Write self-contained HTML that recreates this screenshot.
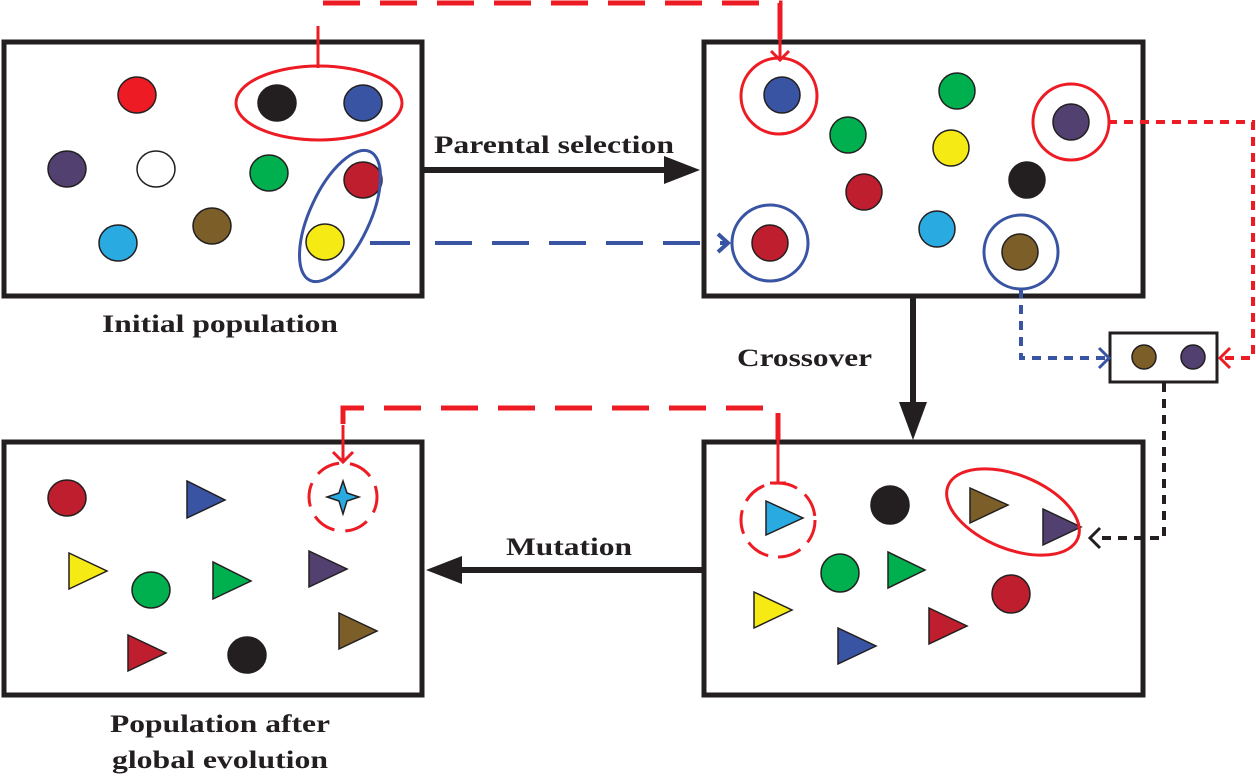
<!DOCTYPE html>
<html><head><meta charset="utf-8"><style>
html,body{margin:0;padding:0;background:#fff;}
svg{display:block;}
text{font-family:"Liberation Serif",serif;font-weight:bold;fill:#231f20;}
</style></head><body>
<svg width="1256" height="776" viewBox="0 0 1256 776" xmlns="http://www.w3.org/2000/svg">
<defs>
<marker id="ah" markerWidth="10" markerHeight="10" refX="9" refY="5" orient="auto" markerUnits="userSpaceOnUse"></marker>
</defs>
<g stroke="#231f20" stroke-width="5" fill="none">
<rect x="4" y="42" width="418" height="254"/>
<rect x="704" y="42" width="439" height="254"/>
<rect x="704" y="442" width="439" height="253"/>
<rect x="4" y="442" width="418" height="253"/>
<rect x="1110" y="333" width="107" height="49" stroke-width="3"/>
</g>
<!-- main arrows -->
<g stroke="#231f20" stroke-width="6" fill="#231f20">
<line x1="422" y1="170" x2="668" y2="170"/>
<polygon points="700,170 664,156 664,184" stroke="none"/>
<line x1="913" y1="296" x2="913" y2="410"/>
<polygon points="913,440 899,402 927,402" stroke="none"/>
<line x1="704" y1="570" x2="460" y2="570"/>
<polygon points="426,570 462,556 462,584" stroke="none"/>
</g>
<text x="434" y="153" font-size="25" textLength="240" lengthAdjust="spacingAndGlyphs">Parental selection</text>
<text x="737" y="366" font-size="25" textLength="135" lengthAdjust="spacingAndGlyphs">Crossover</text>
<text x="506" y="555" font-size="25" textLength="126" lengthAdjust="spacingAndGlyphs">Mutation</text>
<text x="102" y="332" font-size="25" textLength="236" lengthAdjust="spacingAndGlyphs">Initial population</text>
<text x="110" y="732" font-size="25" textLength="220" lengthAdjust="spacingAndGlyphs">Population after</text>
<text x="112" y="768" font-size="25" textLength="216" lengthAdjust="spacingAndGlyphs">global evolution</text>

<!-- box1 circles -->
<g stroke="#231f20" stroke-width="1.5">
<ellipse cx="137" cy="95" rx="19" ry="18" fill="#ed1c24"/>
<ellipse cx="277" cy="103" rx="19" ry="18" fill="#231f20"/>
<ellipse cx="363" cy="103" rx="19" ry="18" fill="#3a54a4"/>
<ellipse cx="67" cy="169" rx="19" ry="18" fill="#524170"/>
<ellipse cx="156" cy="169" rx="19" ry="18" fill="#fff"/>
<ellipse cx="269" cy="173" rx="19" ry="18" fill="#00b04f"/>
<ellipse cx="363" cy="180" rx="19" ry="18" fill="#be1e2d"/>
<ellipse cx="325" cy="242" rx="19" ry="18" fill="#f5ea14"/>
<ellipse cx="118" cy="243" rx="19" ry="18" fill="#29abe2"/>
<ellipse cx="212" cy="226" rx="19" ry="18" fill="#7b5e28"/>
</g>
<ellipse cx="319" cy="103" rx="83" ry="37" fill="none" stroke="#ed1c24" stroke-width="3"/>
<ellipse cx="340" cy="216" rx="30" ry="71" fill="none" stroke="#3a54a4" stroke-width="3" transform="rotate(25 340 216)"/>
<!-- red dashed top -->
<line x1="318" y1="68" x2="318" y2="26" stroke="#ed1c24" stroke-width="3"/>
<path d="M323,3 H780 V40" fill="none" stroke="#ed1c24" stroke-width="5" stroke-dasharray="37,20"/>
<line x1="780" y1="32" x2="780" y2="60" stroke="#ed1c24" stroke-width="3"/>
<path d="M771,51 L780,60 L789,51" fill="none" stroke="#ed1c24" stroke-width="3"/>
<!-- blue dashed -->
<line x1="370" y1="243" x2="410" y2="243" stroke="#3a54a4" stroke-width="4"/>
<line x1="435" y1="243" x2="725" y2="243" stroke="#3a54a4" stroke-width="4" stroke-dasharray="37,20"/>
<path d="M718,234 L728,243 L718,252" fill="none" stroke="#3a54a4" stroke-width="4"/>

<!-- box2 -->
<g stroke="#231f20" stroke-width="1.5">
<circle cx="782" cy="95" r="18" fill="#3a54a4"/>
<circle cx="957" cy="91" r="18" fill="#00b04f"/>
<circle cx="848" cy="135" r="18" fill="#00b04f"/>
<circle cx="951" cy="148" r="18" fill="#f5ea14"/>
<circle cx="1071" cy="122" r="18" fill="#524170"/>
<circle cx="1027" cy="180" r="18" fill="#231f20"/>
<circle cx="864" cy="192" r="18" fill="#be1e2d"/>
<circle cx="937" cy="229" r="18" fill="#29abe2"/>
<circle cx="770" cy="243" r="18" fill="#be1e2d"/>
<circle cx="1020" cy="252" r="18" fill="#7b5e28"/>
</g>
<circle cx="779" cy="96" r="38" fill="none" stroke="#ed1c24" stroke-width="3"/>
<circle cx="1071" cy="122" r="38" fill="none" stroke="#ed1c24" stroke-width="3"/>
<circle cx="770" cy="243" r="38" fill="none" stroke="#3a54a4" stroke-width="3"/>
<circle cx="1021" cy="252" r="37" fill="none" stroke="#3a54a4" stroke-width="3"/>
<!-- red dotted right -->
<path d="M1108,122 H1253 V358 H1222" fill="none" stroke="#ed1c24" stroke-width="4" stroke-dasharray="9,7"/>
<path d="M1230,348 L1220,358 L1230,368" fill="none" stroke="#ed1c24" stroke-width="3"/>
<!-- blue dotted -->
<path d="M1021,289 V358 H1108" fill="none" stroke="#3a54a4" stroke-width="4" stroke-dasharray="9,7"/>
<path d="M1099,348 L1109,358 L1099,368" fill="none" stroke="#3a54a4" stroke-width="3"/>
<!-- small box dots -->
<g stroke="#231f20" stroke-width="1.5">
<circle cx="1144" cy="357" r="12" fill="#7b5e28"/>
<circle cx="1193" cy="357" r="12" fill="#524170"/>
</g>
<!-- black dotted -->
<path d="M1164,383 V538 H1095" fill="none" stroke="#231f20" stroke-width="4" stroke-dasharray="9,7"/>
<path d="M1100,528 L1090,538 L1100,548" fill="none" stroke="#231f20" stroke-width="3"/>

<!-- box3 -->
<g stroke="#231f20" stroke-width="1.5">
<polygon points="766,521 766,555 803,538" fill="#29abe2" transform="translate(0,-20)"/>
<circle cx="890" cy="505" r="19" fill="#231f20"/>
<polygon points="970,505 970,540 1008,522" fill="#7b5e28" transform="translate(0,-17)"/>
<polygon points="1043,526 1043,562 1081,544" fill="#524170" transform="translate(0,-17)"/>
<circle cx="840" cy="573" r="19" fill="#00b04f"/>
<polygon points="888,552 888,588 925,570" fill="#00b04f"/>
<polygon points="754,592 754,628 792,610" fill="#f5ea14"/>
<circle cx="1011" cy="594" r="19" fill="#be1e2d"/>
<polygon points="838,628 838,664 876,646" fill="#3a54a4"/>
<polygon points="929,608 929,644 967,626" fill="#be1e2d"/>
</g>
<circle cx="778" cy="520" r="37" fill="none" stroke="#ed1c24" stroke-width="3" stroke-dasharray="24,10"/>
<ellipse cx="1013" cy="512" rx="70" ry="37" fill="none" stroke="#ed1c24" stroke-width="3" transform="rotate(22 1013 512)"/>
<!-- red dashed mutation -->
<line x1="778" y1="483" x2="778" y2="438" stroke="#ed1c24" stroke-width="3"/>
<line x1="770" y1="483" x2="786" y2="483" stroke="#ed1c24" stroke-width="3"/>
<path d="M778,440 V408 H343 V430" fill="none" stroke="#ed1c24" stroke-width="5" stroke-dasharray="37,20" stroke-dashoffset="10"/>
<line x1="343" y1="425" x2="343" y2="462" stroke="#ed1c24" stroke-width="3"/>
<path d="M333,452 L343,462 L353,452" fill="none" stroke="#ed1c24" stroke-width="3"/>
<circle cx="343" cy="497" r="34" fill="none" stroke="#ed1c24" stroke-width="3" stroke-dasharray="24,11" stroke-dashoffset="8"/>
<polygon points="343,481 347,493 359,497 347,501 343,514 339,501 327,497 339,493" fill="#29abe2" stroke="#231f20" stroke-width="1.5"/>

<!-- box4 -->
<g stroke="#231f20" stroke-width="1.5">
<ellipse cx="67" cy="498" rx="19" ry="18" fill="#be1e2d"/>
<polygon points="187,481 187,518 225,500" fill="#3a54a4"/>
<polygon points="69,553 69,589 107,571" fill="#f5ea14"/>
<ellipse cx="151" cy="590" rx="19" ry="18" fill="#00b04f"/>
<polygon points="213,562 213,599 251,581" fill="#00b04f"/>
<polygon points="309,551 309,587 347,569" fill="#524170"/>
<polygon points="128,635 128,671 166,653" fill="#be1e2d"/>
<ellipse cx="247" cy="655" rx="19" ry="18" fill="#231f20"/>
<polygon points="339,613 339,649 377,631" fill="#7b5e28"/>
</g>
</svg>
</body></html>
